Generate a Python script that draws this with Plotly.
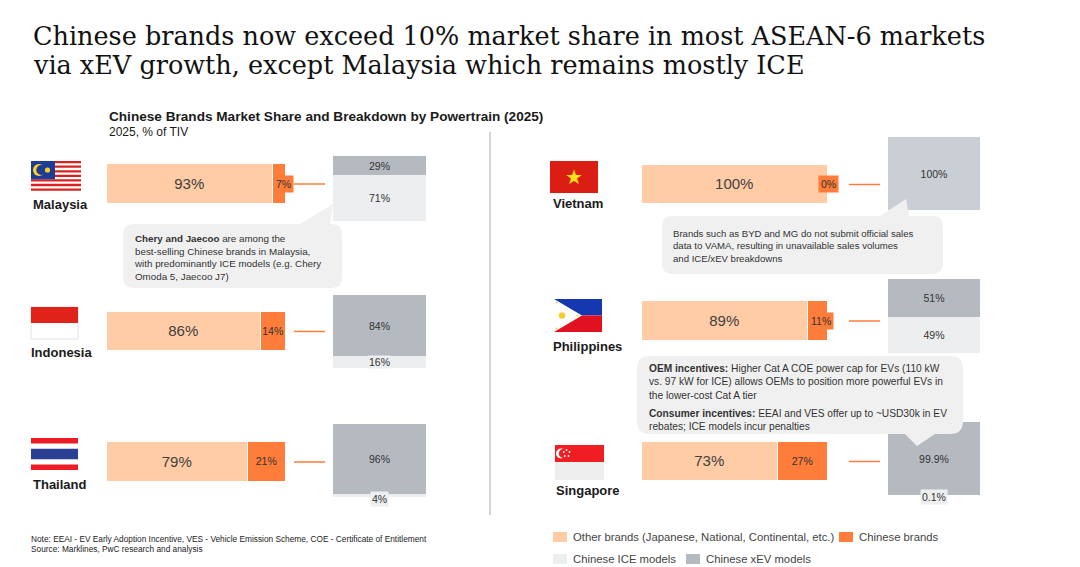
import plotly.graph_objects as go

# ---------------- data ----------------
countries = ["Malaysia", "Indonesia", "Thailand", "Vietnam", "Philippines", "Singapore"]
other_brands_share = [93, 86, 79, 100, 89, 73]
chinese_brands_share = [7, 14, 21, 0, 11, 27]
chinese_ice_share = [71, 16, 4, 0, 49, 0.1]
chinese_xev_share = [29, 84, 96, 100, 51, 99.9]

title_lines = [
    "Chinese brands now exceed 10% market share in most ASEAN-6 markets",
    "via xEV growth, except Malaysia which remains mostly ICE",
]
subtitle = "Chinese Brands Market Share and Breakdown by Powertrain (2025)"
unit_note = "2025, % of TIV"
legend_labels = ["Other brands (Japanese, National, Continental, etc.)", "Chinese brands",
                 "Chinese ICE models", "Chinese xEV models"]
notes = ["Note: EEAI - EV Early Adoption Incentive, VES - Vehicle Emission Scheme, COE - Certificate of Entitlement",
         "Source: Marklines, PwC research and analysis"]
callout_malaysia = ("<b>Chery and Jaecoo</b> are among the<br>best-selling Chinese brands in Malaysia,<br>"
                    "with predominantly ICE models (e.g. Chery<br>Omoda 5, Jaecoo J7)")
callout_vietnam = ("Brands such as BYD and MG do not submit official sales<br>data to VAMA, resulting in "
                   "unavailable sales volumes<br>and ICE/xEV breakdowns")
callout_sg_1 = ("<b>OEM incentives:</b> Higher Cat A COE power cap for EVs (110 kW<br>vs. 97 kW for ICE) "
                "allows OEMs to position more powerful EVs in<br>the lower-cost Cat A tier")
callout_sg_2 = "<b>Consumer incentives:</b> EEAI and VES offer up to ~USD30k in EV<br>rebates; ICE models incur penalties"

# ---------------- styles / layout ----------------
W, H = 1080, 567
PEACH = "#FFCCA6"
ORANGE = "#FE7D3A"
ICE_C = "#EDEEF0"
XEV_C = "#B5BAC1"
XEV_NA = "#CACED5"
CALLOUT = "#F0F0F0"
TXT = "#333333"
SANS = "Liberation Sans, Arial, sans-serif"

# pixel boxes: (x0, x1, y0, y1)
BAR_POS = [(107, 286, 164, 204), (107, 286, 312, 351), (107, 286, 442, 482),
           (642, 828, 165, 204), (642, 828, 301, 341), (642, 828, 442, 481)]
BOX_POS = [(333, 426, 156, 221), (333, 426, 295, 368), (333, 426, 424, 497),
           (888, 980, 137, 210), (888, 980, 279, 353), (888, 980, 422, 495)]
CONNECT_X = [(294, 325)] * 3 + [(849, 880)] * 3
LABEL_POS = [(31, 205), (29, 352), (31, 484), (551, 203), (551, 346), (554, 490)]


def PX(x):
    return x / W


def PY(y):
    return 1 - y / H


fig = go.Figure()
axes = {}
annots = []
shapes = []


def ax_names(n):
    return ("x" if n == 1 else f"x{n}", "y" if n == 1 else f"y{n}",
            "xaxis" if n == 1 else f"xaxis{n}", "yaxis" if n == 1 else f"yaxis{n}")


def fmt(v):
    return f"{v:g}%"


for i, c in enumerate(countries):
    other, chin = other_brands_share[i], chinese_brands_share[i]
    ice, xev = chinese_ice_share[i], chinese_xev_share[i]

    # --- horizontal market-share bar ---
    xb, yb, xbn, ybn = ax_names(2 * i + 1)
    bx0, bx1, by0, by1 = BAR_POS[i]
    axes[xbn] = dict(domain=[PX(bx0), PX(bx1)], range=[0, 100], visible=False, fixedrange=True, anchor=yb)
    axes[ybn] = dict(domain=[PY(by1), PY(by0)], range=[-0.5, 0.5], visible=False, fixedrange=True,
                     anchor=xb, type="category")
    fig.add_trace(go.Bar(y=[c], x=[other], orientation="h", xaxis=xb, yaxis=yb, width=1,
                         marker=dict(color=PEACH, line=dict(color="white", width=1.5)),
                         text=[fmt(other)], textposition="inside", insidetextanchor="middle",
                         textangle=0, constraintext="none",
                         textfont=dict(family=SANS, size=15, color="#404040"),
                         hoverinfo="skip", showlegend=False))
    big = chin >= 12
    fig.add_trace(go.Bar(y=[c], x=[chin], orientation="h", xaxis=xb, yaxis=yb, width=1,
                         marker=dict(color=ORANGE, line=dict(color="white", width=1.5)),
                         text=[fmt(chin) if big else ""], textposition="inside" if big else "none",
                         insidetextanchor="middle", textangle=0, constraintext="none",
                         textfont=dict(family=SANS, size=10.5, color=TXT),
                         hoverinfo="skip", showlegend=False))
    if not big:
        annots.append(dict(x=other, y=0, xref=xb, yref=yb, text=fmt(chin), showarrow=False,
                           xanchor="left" if chin > 0 else "center", yanchor="middle",
                           bgcolor=ORANGE, borderpad=2,
                           font=dict(family=SANS, size=10.5, color=TXT)))

    # --- stacked ICE / xEV box ---
    xs, ys, xsn, ysn = ax_names(2 * i + 2)
    sx0, sx1, sy0, sy1 = BOX_POS[i]
    axes[xsn] = dict(domain=[PX(sx0), PX(sx1)], range=[-0.5, 0.5], visible=False, fixedrange=True,
                     anchor=ys, type="category")
    axes[ysn] = dict(domain=[PY(sy1), PY(sy0)], range=[0, 100], visible=False, fixedrange=True, anchor=xs)
    ice_big = ice >= 20
    fig.add_trace(go.Bar(x=[c], y=[ice], xaxis=xs, yaxis=ys, width=1,
                         marker=dict(color=ICE_C, line=dict(width=0)),
                         text=[fmt(ice) if ice_big else ""], textposition="inside" if ice_big else "none",
                         insidetextanchor="middle", textangle=0, constraintext="none",
                         textfont=dict(family=SANS, size=10.5, color=TXT),
                         hoverinfo="skip", showlegend=False))
    fig.add_trace(go.Bar(x=[c], y=[xev], xaxis=xs, yaxis=ys, width=1,
                         marker=dict(color=XEV_NA if ice == 0 else XEV_C, line=dict(width=0)),
                         text=[fmt(xev)], textposition="inside", insidetextanchor="middle",
                         textangle=0, constraintext="none",
                         textfont=dict(family=SANS, size=10.5, color=TXT),
                         hoverinfo="skip", showlegend=False))
    if 0 < ice < 20:
        if ice >= 10:
            annots.append(dict(x=c, y=ice / 2, xref=xs, yref=ys, text=fmt(ice), showarrow=False,
                               xanchor="center", yanchor="middle", bgcolor=ICE_C, borderpad=0,
                               font=dict(family=SANS, size=10.5, color=TXT)))
        else:
            annots.append(dict(x=c, y=0, xref=xs, yref=ys, text=fmt(ice), showarrow=False,
                               xanchor="center", yanchor="middle", yshift=-2, bgcolor=ICE_C, borderpad=1,
                               font=dict(family=SANS, size=10.5, color=TXT)))

    # connector line
    cy = (by0 + by1) / 2
    cx0, cx1 = CONNECT_X[i]
    shapes.append(dict(type="line", xref="paper", yref="paper", x0=PX(cx0), x1=PX(cx1), y0=PY(cy), y1=PY(cy),
                       line=dict(color=ORANGE, width=1.5)))
    # country label
    lx, ly = LABEL_POS[i]
    annots.append(dict(x=PX(lx), y=PY(ly), xref="paper", yref="paper", text=f"<b>{c}</b>", showarrow=False,
                       xanchor="left", yanchor="middle", font=dict(family=SANS, size=13, color="#1a1a1a")))


# ---------------- flags ----------------
def rect(x0, y0, x1, y1, color, line=None):
    shapes.append(dict(type="rect", xref="paper", yref="paper", x0=PX(x0), x1=PX(x1), y0=PY(y1), y1=PY(y0),
                       fillcolor=color, line=line or dict(width=0), layer="above"))


def circ(cx, cy, r, color):
    shapes.append(dict(type="circle", xref="paper", yref="paper", x0=PX(cx - r), x1=PX(cx + r),
                       y0=PY(cy + r), y1=PY(cy - r), fillcolor=color, line=dict(width=0), layer="above"))


def poly(pts, color):
    d = "M " + " L ".join(f"{PX(x):.5f},{PY(y):.5f}" for x, y in pts) + " Z"
    shapes.append(dict(type="path", xref="paper", yref="paper", path=d, fillcolor=color,
                       line=dict(width=0), layer="above"))


# Malaysia
fx0, fy0, fx1, fy1 = 31, 161, 81, 193
rect(fx0, fy0, fx1, fy1, "white")
sh = (fy1 - fy0) / 14
for k in range(0, 14, 2):
    rect(fx0, fy0 + k * sh, fx1, fy0 + (k + 1) * sh, "#D8231F")
rect(fx0, fy0, 55, fy0 + 8 * sh, "#1E3C96")
circ(39, 170, 6, "#FFD21F")
circ(41.3, 170, 5, "#1E3C96")
circ(47.5, 170, 2.6, "#FFD21F")
# Indonesia
rect(31, 307, 78, 339, "white", dict(color="#E2E2E2", width=1))
rect(31, 307, 78, 323, "#E0221A")
# Thailand
rect(31, 438, 78, 470, "white")
rect(31, 438, 78, 443.5, "#ED1C24")
rect(31, 448.8, 78, 459.2, "#2B3F93")
rect(31, 464.5, 78, 470, "#ED1C24")
# Vietnam
rect(550, 161, 598, 193, "#DA1E14")
annots.append(dict(x=PX(574), y=PY(177), xref="paper", yref="paper", text="★", showarrow=False,
                   xanchor="center", yanchor="middle", font=dict(family="DejaVu Sans", size=20, color="#FFE11A")))
# Philippines
rect(554, 299, 602, 315.5, "#1537B0")
rect(554, 315.5, 602, 332, "#E0121F")
poly([(554, 299), (582, 315.5), (554, 332)], "white")
circ(562, 315.5, 3.2, "#F9CB2E")
circ(556.5, 302.5, 1, "#F9CB2E")
circ(556.5, 328.5, 1, "#F9CB2E")
circ(577.5, 315.5, 1, "#F9CB2E")
# Singapore
rect(555, 445, 604, 462, "#F01E23")
rect(555, 462, 604, 480, "#EEEEEE")
circ(561, 453.5, 5, "white")
circ(563.2, 453.5, 4.4, "#F01E23")
for (sx, sy) in [(566.5, 450), (569.5, 452), (568.5, 456), (564.8, 456), (563.8, 452)]:
    circ(sx, sy, 0.9, "white")


# ---------------- callouts ----------------
def bubble(x0, y0, x1, y1, r, tail, where):
    a, tip, b = tail
    P = lambda x, y: f"{PX(x):.5f},{PY(y):.5f}"
    if where == "top":
        d = (f"M {P(x0 + r, y0)} L {P(*a)} L {P(*tip)} L {P(*b)} L {P(x1 - r, y0)} "
             f"Q {P(x1, y0)} {P(x1, y0 + r)} L {P(x1, y1 - r)} Q {P(x1, y1)} {P(x1 - r, y1)} "
             f"L {P(x0 + r, y1)} Q {P(x0, y1)} {P(x0, y1 - r)} L {P(x0, y0 + r)} Q {P(x0, y0)} {P(x0 + r, y0)} Z")
    else:
        d = (f"M {P(x0 + r, y0)} L {P(x1 - r, y0)} Q {P(x1, y0)} {P(x1, y0 + r)} L {P(x1, y1 - r)} "
             f"Q {P(x1, y1)} {P(x1 - r, y1)} L {P(*b)} L {P(*tip)} L {P(*a)} L {P(x0 + r, y1)} "
             f"Q {P(x0, y1)} {P(x0, y1 - r)} L {P(x0, y0 + r)} Q {P(x0, y0)} {P(x0 + r, y0)} Z")
    shapes.append(dict(type="path", xref="paper", yref="paper", path=d, fillcolor=CALLOUT,
                       line=dict(width=0), layer="above"))


bubble(123, 224, 342, 288, 11, [(300, 224), (333, 204), (330, 224)], "top")
bubble(662, 216, 943, 274, 11, [(880, 216), (906, 199), (909, 216)], "top")
bubble(637, 356, 963, 434, 13, [(905, 434), (917, 446), (935, 434)], "bottom")


def text(x, y, s, size, color=TXT, family=SANS, xanchor="left", yanchor="middle", align="left"):
    annots.append(dict(x=PX(x), y=PY(y), xref="paper", yref="paper", text=s, showarrow=False,
                       xanchor=xanchor, yanchor=yanchor, align=align,
                       font=dict(family=family, size=size, color=color)))


text(132, 231, callout_malaysia, 9.8, yanchor="top")
text(671, 226, callout_vietnam, 9.6, yanchor="top")
text(647, 361, callout_sg_1, 10.2, yanchor="top")
text(647, 406, callout_sg_2, 10.2, yanchor="top")

# ---------------- titles, notes, legend ----------------
SERIF = "DejaVu Serif, Liberation Serif, serif"
text(31, 36, title_lines[0], 25.5, color="#111111", family=SERIF)
text(31, 65, title_lines[1], 25.5, color="#111111", family=SERIF)
text(107, 117, f"<b>{subtitle}</b>", 13.6, color="#1a1a1a")
text(107, 132, unit_note, 12, color="#1a1a1a")
text(29, 539, notes[0], 8.3, color="#222222")
text(29, 549, notes[1], 8.3, color="#222222")

shapes.append(dict(type="line", xref="paper", yref="paper", x0=PX(490), x1=PX(490), y0=PY(132), y1=PY(515),
                   line=dict(color="#D5D5D5", width=2)))

legend_items = [(553, 537, PEACH, legend_labels[0]), (839, 537, ORANGE, legend_labels[1]),
                (553, 559, ICE_C, legend_labels[2]), (686, 559, XEV_C, legend_labels[3])]
for (lx, ly, col, lab) in legend_items:
    rect(lx, ly - 5, lx + 14, ly + 5, col)
    text(lx + 18, ly, lab, 11.3, color="#444444")

fig.update_layout(width=W, height=H, margin=dict(l=0, r=0, t=0, b=0), paper_bgcolor="white",
                  plot_bgcolor="rgba(0,0,0,0)", barmode="stack", bargap=0, showlegend=False,
                  shapes=shapes, annotations=annots, **axes)

fig.write_html("out.html", config={"displayModeBar": False},
               post_script="document.body.style.margin='0';")
